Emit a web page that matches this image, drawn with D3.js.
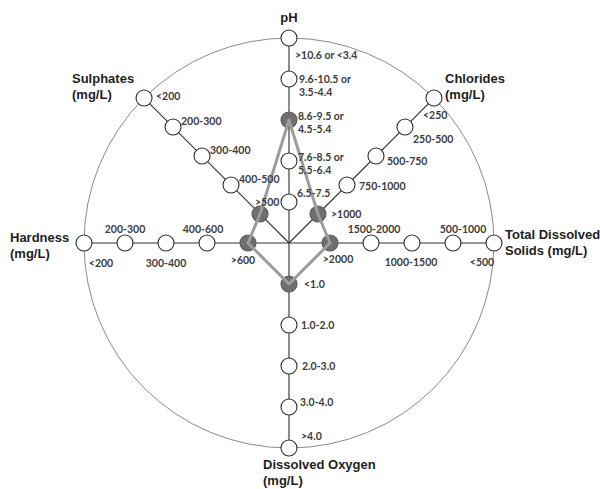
<!DOCTYPE html>
<html>
<head>
<meta charset="utf-8">
<script src="https://cdn.jsdelivr.net/npm/d3@7"></script>
<style>
  html, body { margin: 0; padding: 0; background: #fff; }
  svg { display: block; }
  .title { font-family: "Liberation Sans", Arial, sans-serif; font-weight: 700; font-size: 13px; fill: #1e1e1e; }
  .cls { font-family: Lato, "Open Sans", sans-serif; font-weight: 700; font-size: 10.5px; fill: #3c3c3c; }
</style>
</head>
<body>
<svg id="chart" width="600" height="489"></svg>
<script>
// Water-quality parameters shown as spokes of the wheel
const parameters = ["pH", "Chlorides", "Total Dissolved Solids", "Dissolved Oxygen", "Hardness", "Sulphates"];
const parameterTitles = [
  ["pH"],
  ["Chlorides", "(mg/L)"],
  ["Total Dissolved", "Solids (mg/L)"],
  ["Dissolved Oxygen", "(mg/L)"],
  ["Hardness", "(mg/L)"],
  ["Sulphates", "(mg/L)"]
];

// Class ranges on each spoke, ordered from the hub (rank 1) to the rim (rank 5)
const phClasses = ["6.5-7.5", "7.6-8.5 or|5.5-6.4", "8.6-9.5 or|4.5-5.4", "9.6-10.5 or|3.5-4.4", ">10.6 or <3.4"];
const chlorideClasses = [">1000", "750-1000", "500-750", "250-500", "<250"];
const tdsClasses = [">2000", "1500-2000", "1000-1500", "500-1000", "<500"];
const oxygenClasses = ["<1.0", "1.0-2.0", "2.0-3.0", "3.0-4.0", ">4.0"];
const hardnessClasses = [">600", "400-600", "300-400", "200-300", "<200"];
const sulphateClasses = [">500", "400-500", "300-400", "200-300", "<200"];
const classLists = [phClasses, chlorideClasses, tdsClasses, oxygenClasses, hardnessClasses, sulphateClasses];

// Observed class rank for each parameter (1 = nearest the hub)
const observedRank = [3, 1, 1, 1, 1, 1];

// ---- layout ----
const svg = d3.select("#chart");
const cx = 289, cy = 243, outerR = 205;
const spokeAngle = [0, 45, 90, 180, 270, 315];          // degrees clockwise from north
const rScale = d3.scaleLinear().domain([0, 5]).range([0, outerR]);
const nodeR = 8;

function pos(axisIdx, rank) {
  const a = spokeAngle[axisIdx] * Math.PI / 180;
  const r = rScale(rank);
  return [cx + r * Math.sin(a), cy - r * Math.cos(a)];
}

// class-label placement relative to its node: [dx, dy, anchor]
function labelPlacement(axisIdx, i) {
  switch (axisIdx) {
    case 0: return i === 4 ? [6, 17, "start"] : i === 0 ? [8, -9, "start"] : i === 3 ? [10, 0, "start"] : [9, -4, "start"];
    case 1: return [[13, 0], [12, 1], [11, 5], [8, 12], [-11, 17]][i].concat("start");
    case 2: return [[8, 16], [3, -14], [-1, 19], [10, -14], [-12, 19]][i].concat("middle");
    case 3: return [[15, 0], [12, 0], [13, 0], [11, -5], [12, -12]][i].concat("start");
    case 4: return [[-5, 17], [-4, -14], [0, 20], [0, -14], [17, 20]][i].concat("middle");
    case 5: return i === 0 ? [-5, -12, "start"] : i === 4 ? [12, -2, "start"] : [8, -6, "start"];
  }
}

const g = svg.append("g");

// outer rim
g.append("circle")
  .attr("cx", cx).attr("cy", cy).attr("r", outerR)
  .attr("fill", "none").attr("stroke", "#8a8a8a").attr("stroke-width", 1);

// spokes
g.selectAll("line.spoke").data(parameters).join("line")
  .attr("class", "spoke")
  .attr("x1", cx).attr("y1", cy)
  .attr("x2", (d, i) => pos(i, 5)[0])
  .attr("y2", (d, i) => pos(i, 5)[1])
  .attr("stroke", "#2e2e2e").attr("stroke-width", 1.1);

// class nodes
const nodes = [];
classLists.forEach((list, ai) => {
  list.forEach((label, ci) => {
    nodes.push({ axis: ai, rank: ci + 1, label, hit: observedRank[ai] === ci + 1 });
  });
});

g.selectAll("circle.node").data(nodes).join("circle")
  .attr("class", "node")
  .attr("cx", d => pos(d.axis, d.rank)[0])
  .attr("cy", d => pos(d.axis, d.rank)[1])
  .attr("r", nodeR)
  .attr("fill", d => d.hit ? "#6f6f6f" : "#fff")
  .attr("stroke", d => d.hit ? "#5a5a5a" : "#2e2e2e")
  .attr("stroke-width", 1.1);

// observed profile polygon
const profile = observedRank.map((rk, i) => pos(i, rk));
g.append("path")
  .attr("d", d3.line().curve(d3.curveLinearClosed)(profile))
  .attr("fill", "none")
  .attr("stroke", "#9c9c9c")
  .attr("stroke-width", 3)
  .attr("stroke-linejoin", "round");

// class labels
g.selectAll("text.cls").data(nodes).join("text")
  .attr("class", "cls")
  .each(function (d) {
    const [x, y] = pos(d.axis, d.rank);
    const [dx, dy, anchor] = labelPlacement(d.axis, d.rank - 1);
    const lines = d.label.split("|");
    const t = d3.select(this).attr("text-anchor", anchor);
    lines.forEach((ln, k) => {
      t.append("tspan")
        .attr("x", x + dx)
        .attr("y", y + dy + k * 13)
        .attr("dy", "0.35em")
        .text(ln);
    });
  });

// parameter titles
const titlePlacement = [
  [289, 17, "middle"],
  [445, 78, "start"],
  [505, 234, "start"],
  [263, 464, "start"],
  [10, 237, "start"],
  [72, 78, "start"]
];
g.selectAll("text.title").data(parameterTitles).join("text")
  .attr("class", "title")
  .attr("text-anchor", (d, i) => titlePlacement[i][2])
  .each(function (d, i) {
    const [x, y] = titlePlacement[i];
    d.forEach((ln, k) => {
      d3.select(this).append("tspan")
        .attr("x", x).attr("y", y + k * 16)
        .attr("dy", "0.35em")
        .text(ln);
    });
  });
</script>
</body>
</html>
